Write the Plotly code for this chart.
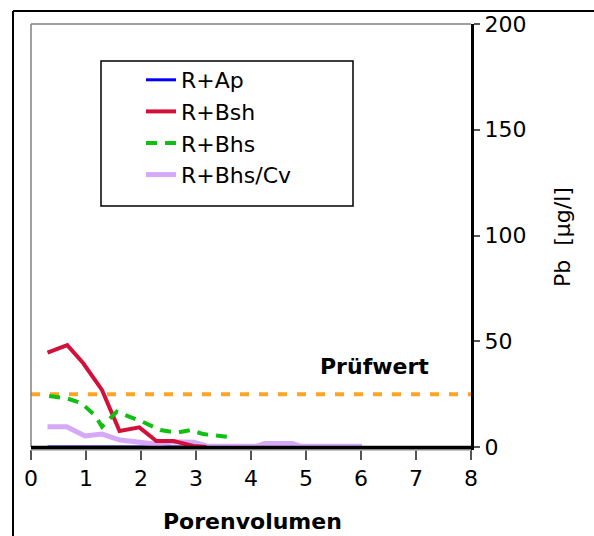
import plotly.graph_objects as go

# ---- data ----
x_ap = [0.3, 0.65, 0.95, 1.3, 1.6, 1.95, 2.3, 2.6, 2.95, 3.2]
y_ap = [0, 0, 0, 0, 0, 0, 0, 0, 0, 0]

x_bsh = [0.3, 0.66, 0.95, 1.29, 1.61, 1.97, 2.28, 2.59, 2.95, 3.19]
y_bsh = [44.6, 48.2, 39.6, 27.0, 7.6, 9.3, 2.8, 2.8, 0.5, 0.0]

x_bhs = [0.33, 0.65, 0.92, 1.17, 1.29, 1.56, 2.02, 2.35, 2.65, 2.9, 3.13, 3.56]
y_bhs = [24.1, 23.0, 20.7, 14.7, 9.6, 16.7, 12.0, 8.0, 6.8, 8.0, 6.1, 4.9]

x_cv = [0.3, 0.65, 0.98, 1.29, 1.62, 1.99, 2.29, 2.59, 2.96, 3.2, 3.6, 4.1, 4.25, 4.75, 4.9, 5.5, 6.02]
y_cv = [9.6, 9.6, 5.2, 6.1, 3.3, 2.2, 1.3, 2.5, 2.2, 0.5, 0.4, 0.4, 1.6, 1.6, 0.4, 0.4, 0.4]

PRUEFWERT = 25
x_ticks = [0, 1, 2, 3, 4, 5, 6, 7, 8]
y_ticks = [0, 50, 100, 150, 200]

FONT = "DejaVu Sans"

# ---- layout geometry (pixels) ----
W, H = 594, 536
L, R, T, B = 31, 471, 24, 447
pw, ph = R - L, B - T


def px(x):
    return (x - L) / pw


def py(y):
    return (B - y) / ph


fig = go.Figure()

fig.add_trace(go.Scatter(x=x_ap, y=y_ap, mode="lines", name="R+Ap",
                         line=dict(color="#0000FF", width=3), legendrank=1))
fig.add_trace(go.Scatter(x=x_cv, y=y_cv, mode="lines", name="R+Bhs/Cv",
                         line=dict(color="#D6A8F8", width=5), legendrank=4))
fig.add_trace(go.Scatter(x=x_bsh, y=y_bsh, mode="lines", name="R+Bsh",
                         line=dict(color="#D3103A", width=4), legendrank=2))
fig.add_trace(go.Scatter(x=x_bhs, y=y_bhs, mode="lines", name="R+Bhs",
                         line=dict(color="#10C010", width=4, dash="11px,8px"), legendrank=3))

shapes = [
    # Prüfwert line
    dict(type="line", xref="paper", yref="y", x0=0, x1=1, y0=PRUEFWERT, y1=PRUEFWERT,
         line=dict(color="#FFA526", width=4, dash="9px,10px"), layer="below"),
    # inner frame (left & top, gray)
    dict(type="line", xref="paper", yref="paper", x0=0, x1=0, y0=0, y1=1,
         line=dict(color="#808080", width=1.5)),
    dict(type="line", xref="paper", yref="paper", x0=0, x1=1, y0=1, y1=1,
         line=dict(color="#808080", width=1.5)),
    # bottom axis line drawn above traces + thin gray shadow line
    dict(type="line", xref="paper", yref="paper", x0=0, x1=1, y0=py(450), y1=py(450),
         line=dict(color="#B0B0B0", width=1.5)),
    dict(type="line", xref="paper", yref="paper", x0=0, x1=1, y0=py(447.3), y1=py(447.3),
         line=dict(color="black", width=3)),
    # outer frame (left & top, black)
    dict(type="line", xref="paper", yref="paper", x0=px(13), x1=px(13), y0=py(11), y1=py(540),
         line=dict(color="black", width=2)),
    dict(type="line", xref="paper", yref="paper", x0=px(13), x1=px(600), y0=py(11), y1=py(11),
         line=dict(color="black", width=2)),
    # legend box
    dict(type="rect", xref="paper", yref="paper", x0=px(101), x1=px(353), y0=py(61), y1=py(206),
         line=dict(color="black", width=1.5), fillcolor="rgba(0,0,0,0)"),
]

annotations = [
    dict(text="<b>Prüfwert</b>", x=6.25, y=38.3, xref="x", yref="y", showarrow=False,
         font=dict(family=FONT, size=22, color="black")),
    dict(text="<b>Porenvolumen</b>", x=px(252), y=py(521), xref="paper", yref="paper",
         showarrow=False, xanchor="center", yanchor="middle",
         font=dict(family=FONT, size=22, color="black")),
    dict(text="Pb\u00a0\u00a0[µg/l]", x=px(563), y=py(237), xref="paper", yref="paper",
         showarrow=False, textangle=-90, xanchor="center", yanchor="middle",
         font=dict(family=FONT, size=22, color="black")),
]

fig.update_layout(
    width=W, height=H, autosize=False,
    margin=dict(l=L, r=W - R, t=T, b=H - B, pad=0),
    paper_bgcolor="white", plot_bgcolor="white",
    shapes=shapes, annotations=annotations,
    showlegend=True,
    legend=dict(x=px(141), y=py(59), xanchor="left", yanchor="top",
                bgcolor="rgba(0,0,0,0)", borderwidth=0,
                font=dict(family=FONT, size=22, color="black"),
                traceorder="normal"),
    xaxis=dict(range=[0, 8], tickvals=x_ticks, ticktext=[str(v) for v in x_ticks],
               showgrid=False, zeroline=False, showline=True, linecolor="black", linewidth=3,
               ticks="outside", ticklen=10, tickwidth=1.5, tickcolor="#555555",
               tickfont=dict(family=FONT, size=22, color="black")),
    yaxis=dict(range=[0, 200], tickvals=y_ticks, ticktext=[str(v) for v in y_ticks],
               side="right",
               showgrid=False, zeroline=False, showline=True, linecolor="black", linewidth=3,
               ticks="outside", ticklen=6, tickwidth=1.5, tickcolor="#555555",
               tickfont=dict(family=FONT, size=22, color="black")),
)

fig.write_html("out.html")
